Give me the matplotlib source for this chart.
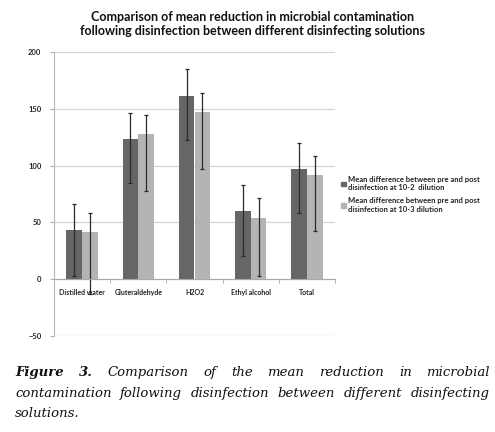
import matplotlib
matplotlib.use('Agg')
import matplotlib.pyplot as plt
from matplotlib.patches import Patch
import numpy as np

# Data
categories = ['Distilled water', 'Gluteraldehyde', 'H2O2', 'Ethyl alcohol', 'Total']
mean_10_2 = [43, 123.5, 161.5, 60, 97]
high_10_2 = [66, 146, 185, 83, 120]
low_10_2 = [3, 84.5, 123, 20, 58]
mean_10_3 = [41, 128, 147, 54, 91.5]
high_10_3 = [58, 145, 164, 71, 108.5]
low_10_3 = [-13, 78, 97, 3, 42]
series_labels = ['Mean difference between pre and post\ndisinfection at 10-2  dilution',
                 'Mean difference between pre and post\ndisinfection at 10-3 dilution']
title = ('Comparison of mean reduction in microbial contamination\n'
         'following disinfection between different disinfecting solutions')
caption_lines = [
    'Comparison of the mean reduction in microbial',
    'contamination following disinfection between different disinfecting',
    'solutions.',
]

DARK = '#666666'
LIGHT = '#b4b4b4'
GRID = '#d4d4d4'
SANS = ['Lato', 'DejaVu Sans']

W, H, DPI = 4.95, 4.32, 100
fig = plt.figure(figsize=(W, H), dpi=DPI)
ax = fig.add_axes([54 / 495, 1 - 335.6 / 432, 281 / 495, (335.6 - 52.3) / 432])

x = np.arange(len(categories))
bw = 0.28
m2, m3 = np.array(mean_10_2), np.array(mean_10_3)
err2 = [m2 - np.array(low_10_2), np.array(high_10_2) - m2]
err3 = [m3 - np.array(low_10_3), np.array(high_10_3) - m3]
ekw = dict(ecolor='#2a2a2a', elinewidth=0.9, capsize=1.6, capthick=0.9)
ax.bar(x - bw / 2, m2, bw, color=DARK, yerr=err2, error_kw=ekw, zorder=3)
ax.bar(x + bw / 2, m3, bw, color=LIGHT, yerr=err3, error_kw=ekw, zorder=3)

ax.set_xlim(-0.5, len(categories) - 0.5)
ax.set_ylim(-50, 200)
ax.set_yticks([-50, 0, 50, 100, 150, 200])
ax.yaxis.grid(True, color=GRID, lw=0.9, zorder=0)
ax.set_axisbelow(True)

for s in ['top', 'right']:
    ax.spines[s].set_visible(False)
ax.spines['left'].set_color('#b8b8b8')
ax.spines['bottom'].set_position(('data', 0))
ax.spines['bottom'].set_color('#a8a8a8')
ax.spines['bottom'].set_zorder(4)

ax.set_xticks(x)
ax.set_xticklabels(categories, fontsize=5, fontweight='bold', family=SANS, color='#222222')
ax.set_xticks(np.arange(0.5, len(categories), 1.0), minor=True)
ax.tick_params(axis='x', which='major', length=0, pad=7)
ax.tick_params(axis='x', which='minor', length=3, color='#a8a8a8', direction='out')
ax.tick_params(axis='y', length=3, color='#b0b0b0', labelsize=5.5, labelcolor='#222222', pad=6)
for lab in ax.get_yticklabels():
    lab.set_fontweight('bold')
    lab.set_family(SANS)

fig.text(253 / 495, 1 - 11 / 432, title, ha='center', va='top', fontsize=9,
         fontweight='bold', family=SANS, linespacing=1.2, color='#111111')

handles = [Patch(color=DARK), Patch(color=LIGHT)]
leg = fig.legend(handles, series_labels, loc='upper left',
                 bbox_to_anchor=(335 / 495, 1 - 170 / 432),
                 frameon=False, handlelength=0.6, handleheight=0.6,
                 handletextpad=0.35, labelspacing=0.8, borderpad=0.3,
                 prop={'family': SANS, 'size': 5.5, 'weight': 'bold'})
for t in leg.get_texts():
    t.set_color('#222222')

# Caption, justified like the journal page
renderer = fig.canvas.get_renderer()
left_px, right_px = 15, 490
baselines = [376, 397, 417]
cap_font = dict(family=['DejaVu Serif'], fontsize=9.5, style='italic')
for i, line in enumerate(caption_lines):
    words = line.split()
    items = []
    if i == 0:
        items += [('Figure', 'bold'), ('3.', 'bold')]
    items += [(w, 'normal') for w in words]
    y = 1 - baselines[i] / 432
    texts = [fig.text(0, y, w, va='baseline', ha='left', fontweight=wt, color='#111111', **cap_font)
             for w, wt in items]
    widths = [t.get_window_extent(renderer).width for t in texts]
    if i < len(caption_lines) - 1:
        gap = (right_px - left_px - sum(widths)) / (len(texts) - 1)
    else:
        gap = renderer.points_to_pixels(9.5) * 0.3
    xpos = left_px
    for t, w in zip(texts, widths):
        t.set_x(xpos / 495)
        xpos += w + gap

fig.savefig('out.png', dpi=DPI)
